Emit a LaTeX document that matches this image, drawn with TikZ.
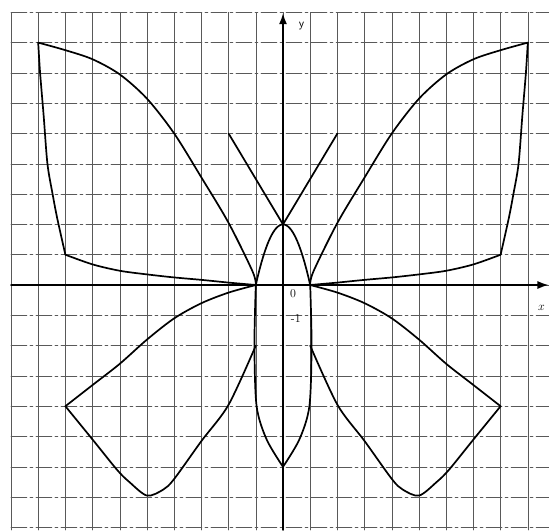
\documentclass[tikz,border=0pt]{standalone}
\usetikzlibrary{arrows.meta}
\begin{document}
\begin{tikzpicture}[x=27.2pt,y=30.3pt,line cap=round,line join=round,
  every node/.style={inner sep=0.8pt,font=\large},
  gridv/.style={line width=0.5pt,black!65},
  gridh/.style={line width=0.5pt,black!65,dash pattern=on 16pt off 3pt on 3pt off 3pt},
  wing/.style={line width=1.7pt}]
  \useasboundingbox (-10.404,-8.086) rectangle (9.779,9.406);
  % 网格
  \foreach \x in {-10,...,9} {
    \draw[gridv] (\x,-8.086) -- (\x,9);
  }
  \foreach \y in {-8,...,9} {
    \draw[gridh] (-10,\y) -- (9.779,\y);
  }
  % 坐标轴
  \draw[line width=1.4pt,-{Latex[length=11pt,width=8pt]}] (-10,0) -- (9.76,0);
  \draw[line width=1.4pt,-{Latex[length=11pt,width=8pt]}] (0,-8.086) -- (0,8.97);
  \node (lblx) at (9.5,-0.75) {$x$};
  \node (lbly) at (0.68,8.55) {\sffamily y};
  \node (lblo) at (0.37,-0.3) {0};
  \node (lblm) at (0.47,-1.1) {-1};
  % 左右两对翅膀
  \foreach \s in {1,-1} {
    \begin{scope}[xscale=\s]
      % 上翅
      \draw[wing] plot[smooth] coordinates {(1,0) (1.12,0.45) (2,2.05) (3,3.55) (4,5) (5,6.15) (6,6.95) (7,7.45) (8,7.75) (9,8)};
      \draw[wing] plot[smooth] coordinates {(9,8) (8.93,7) (8.8,5.6) (8.66,4) (8.47,3) (8.3,2.2) (8,1)};
      \draw[wing] plot[smooth] coordinates {(8,1) (7,0.68) (6,0.47) (5,0.35) (4,0.25) (3,0.17) (2,0.08) (1,0)};
      % 下翅
      \draw[wing] plot[smooth] coordinates {(1,0) (2,-0.25) (3,-0.6) (4,-1.1) (5,-1.8) (6,-2.6) (7,-3.3) (8,-4)};
      \draw[wing] plot[smooth] coordinates {(8,-4) (7,-5.1) (6.1,-6.1) (5.65,-6.5) (5,-6.95) (4.4,-6.75) (4,-6.4) (3,-5.15) (2,-3.95) (1,-2)};
      % 身体
      \draw[wing] plot[smooth] coordinates {(1,0) (1.05,-2) (0.97,-4) (0.6,-5.1) (0,-6)};
      % 触角
      \draw[wing] (0,2) -- (2,5);
    \end{scope}
  }
  % 头
  \draw[wing] plot[domain=-1:1,samples=30] (\x,{2-2*\x*\x});
\end{tikzpicture}
\end{document}
